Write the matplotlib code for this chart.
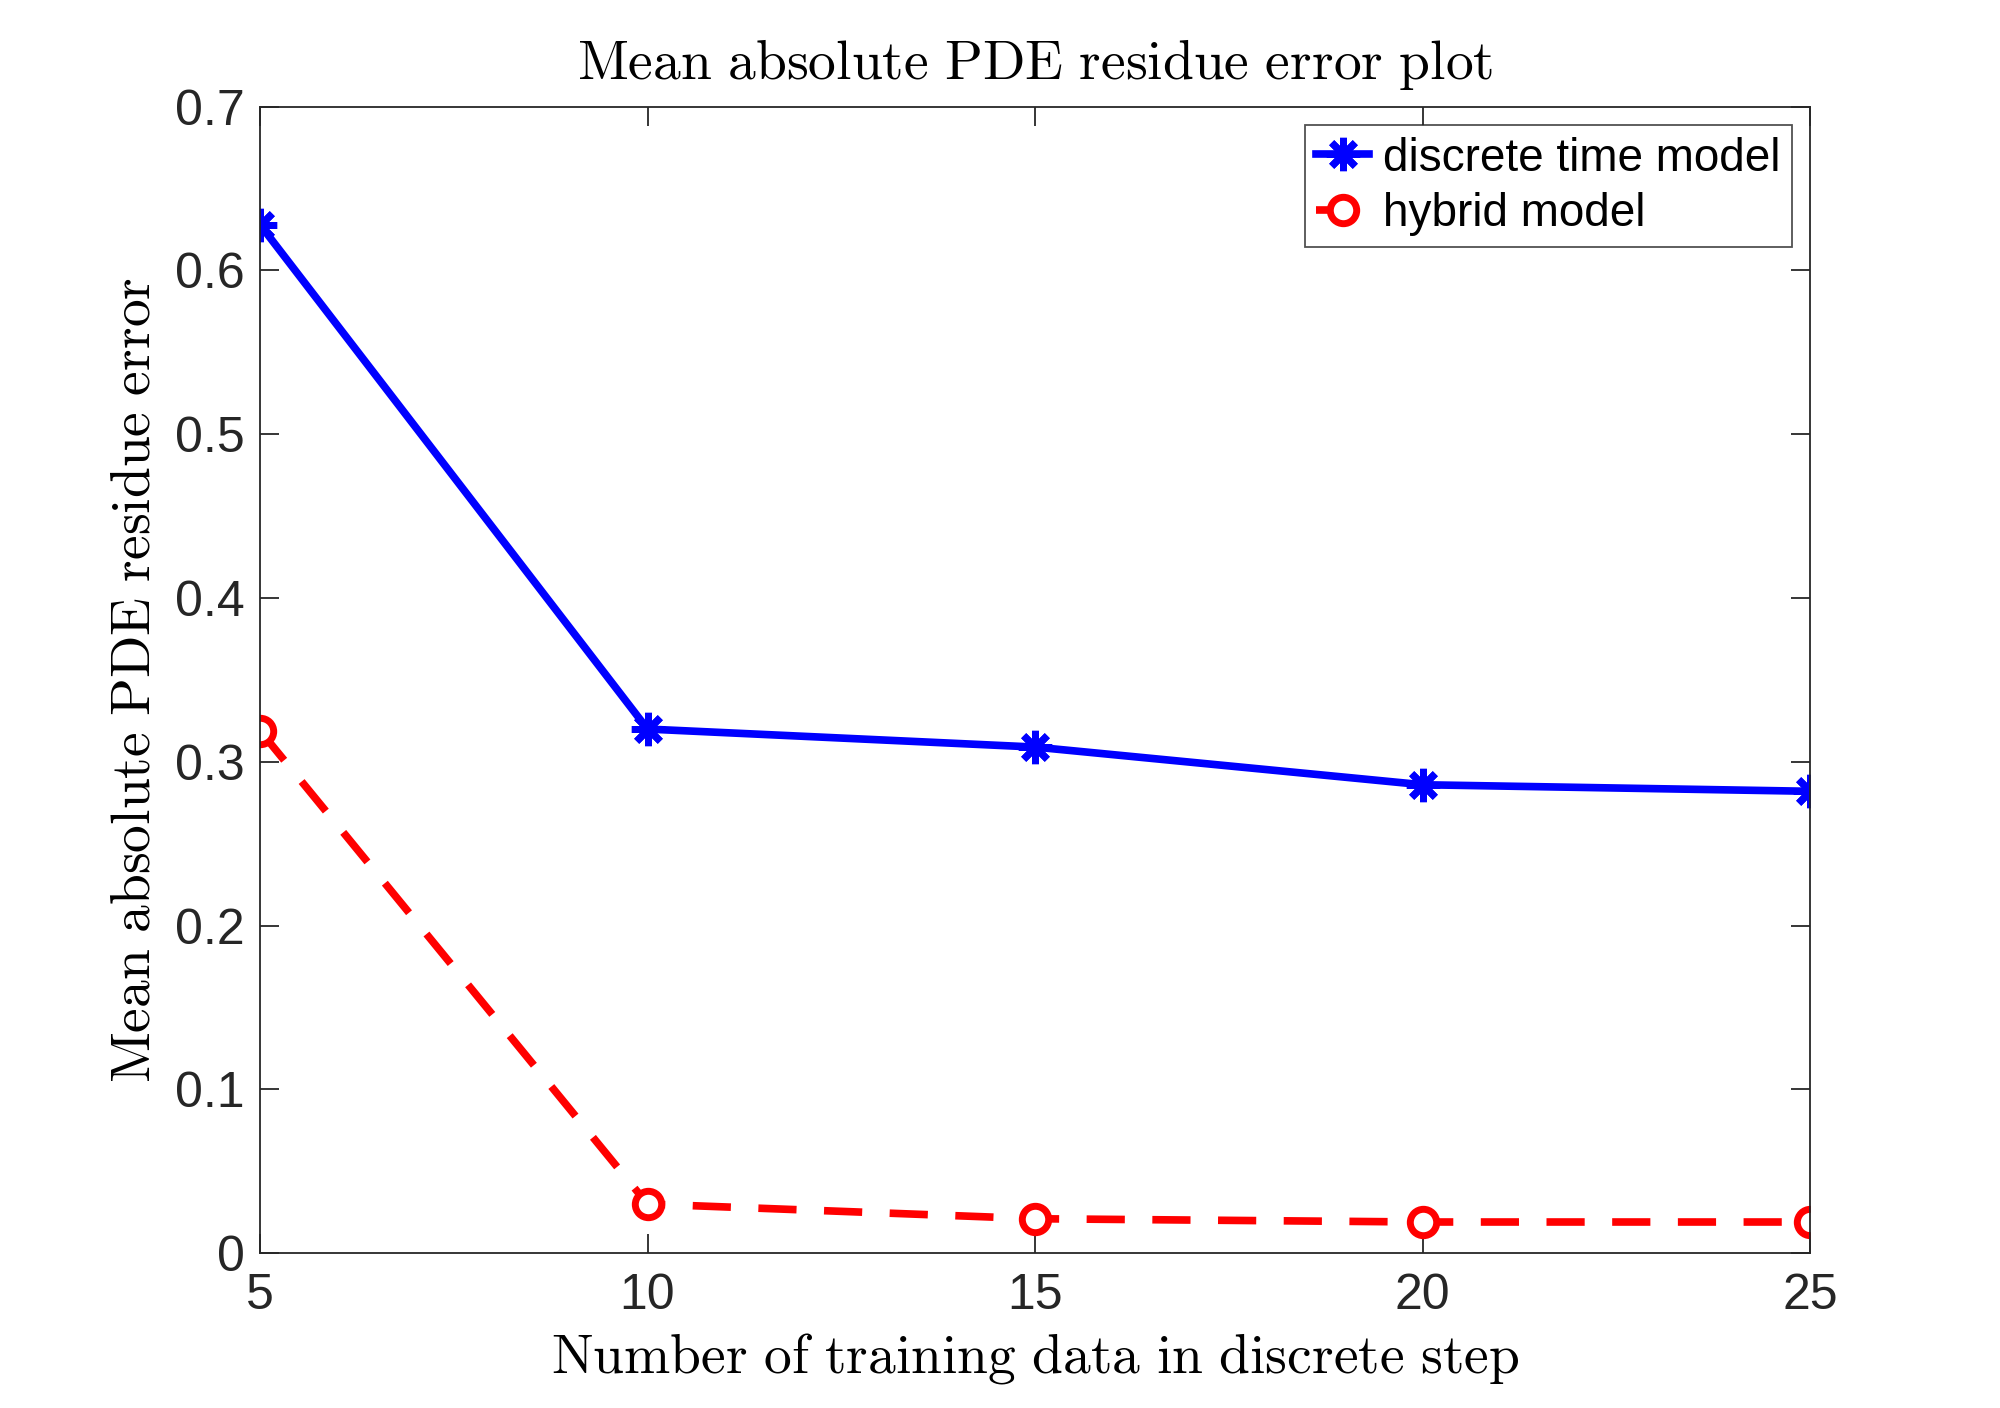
import numpy as np
import matplotlib
matplotlib.use('Agg')
import matplotlib.pyplot as plt

# data
n_train = [5, 10, 15, 20, 25]
err_discrete = [0.628, 0.320, 0.309, 0.286, 0.282]
err_hybrid = [0.319, 0.030, 0.021, 0.019, 0.019]
labels = ["discrete time model", "hybrid model"]

plt.rcParams['mathtext.fontset'] = 'cm'
plt.rcParams['font.family'] = ['Liberation Sans', 'DejaVu Sans']

fig = plt.figure(figsize=(20, 14.08), dpi=100)
ax = fig.add_axes([0.13, 0.110, 0.775, 0.8142])

ax.plot(n_train, err_discrete, color='#0000ff', lw=5.5, marker=(8, 2, 0),
        ms=24, mew=5, label=labels[0])
ax.plot(n_train, err_hybrid, color='#ff0000', lw=5.5, dashes=(5, 3.6),
        marker='o', ms=19, mew=5, mfc='white', label=labels[1])

ax.set_xlim(5, 25)
ax.set_ylim(0, 0.7)
ax.set_xticks([5, 10, 15, 20, 25])
ax.set_yticks(np.arange(0, 0.71, 0.1))
ax.set_yticklabels(['0', '0.1', '0.2', '0.3', '0.4', '0.5', '0.6', '0.7'])

grey = '#262626'
for s in ax.spines.values():
    s.set_color(grey)
    s.set_linewidth(1.3)
ax.tick_params(direction='in', length=14, width=1.3, colors=grey,
               labelsize=36, top=True, right=True)
ax.tick_params(axis='y', pad=11)
ax.tick_params(axis='x', pad=14)

ax.set_title(r'$\mathrm{Mean\ absolute\ PDE\ residue\ error\ plot}$',
             fontsize=40, pad=20)
ax.set_xlabel(r'$\mathrm{Number\ of\ training\ data\ in\ discrete\ step}$',
              fontsize=40, labelpad=9)
ax.set_ylabel(r'$\mathrm{Mean\ absolute\ PDE\ residue\ error}$',
              fontsize=40, labelpad=10)

leg = ax.legend(loc='upper right', fontsize=33, frameon=True, fancybox=False,
                edgecolor=grey, handlelength=1.15, handletextpad=0.3,
                borderpad=0.25, labelspacing=0.25, borderaxespad=0.4)
leg.get_frame().set_linewidth(1.3)

fig.savefig('out.png', dpi=100, facecolor='white')
